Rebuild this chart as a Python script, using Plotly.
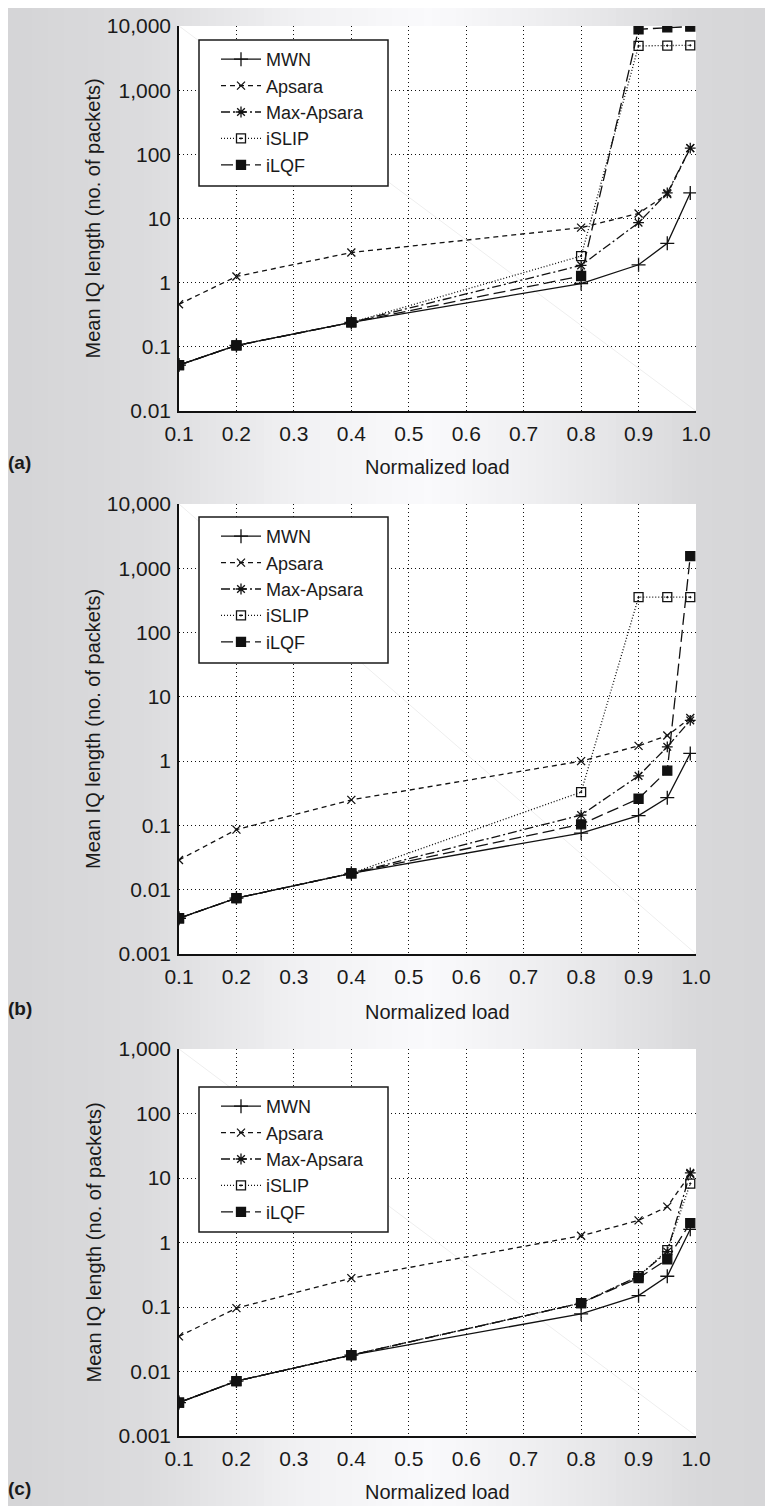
import plotly.graph_objects as go

# ---------------- data ----------------
load = [0.1, 0.2, 0.4, 0.8, 0.9, 0.95, 0.99]
series_names = ["MWN", "Apsara", "Max-Apsara", "iSLIP", "iLQF"]

# panel (a)
a_mwn = [0.052, 0.105, 0.24, 0.97, 1.9, 4.1, 25]
a_apsara = [0.46, 1.25, 2.95, 7.2, 12, 24, 125]
a_maxapsara = [0.052, 0.105, 0.24, 1.86, 8.6, 25, 125]
a_islip = [0.052, 0.105, 0.24, 2.6, 4900, 4950, 5000]
a_ilqf = [0.052, 0.105, 0.24, 1.27, 8900, 9500, 9800]

# panel (b)
b_mwn = [0.0036, 0.0074, 0.018, 0.076, 0.142, 0.27, 1.32]
b_apsara = [0.029, 0.086, 0.25, 1.0, 1.73, 2.5, 4.7]
b_maxapsara = [0.0036, 0.0074, 0.018, 0.145, 0.59, 1.67, 4.3]
b_islip = [0.0036, 0.0074, 0.018, 0.33, 355, 355, 355]
b_ilqf = [0.0036, 0.0074, 0.018, 0.104, 0.26, 0.71, 1550]

# panel (c)
c_mwn = [0.0033, 0.0071, 0.018, 0.078, 0.15, 0.3, 1.6]
c_apsara = [0.035, 0.096, 0.28, 1.27, 2.2, 3.6, 11.5]
c_maxapsara = [0.0033, 0.0071, 0.018, 0.115, 0.3, 0.72, 12]
c_islip = [0.0033, 0.0071, 0.018, 0.115, 0.3, 0.76, 8.2]
c_ilqf = [0.0033, 0.0071, 0.018, 0.115, 0.28, 0.55, 2.0]

x_tickvals = [0.1, 0.2, 0.3, 0.4, 0.5, 0.6, 0.7, 0.8, 0.9, 1.0]
x_ticktext = ["0.1", "0.2", "0.3", "0.4", "0.5", "0.6", "0.7", "0.8", "0.9", "1.0"]
y_tickvals = [0.001, 0.01, 0.1, 1, 10, 100, 1000, 10000]
y_ticktext = ["0.001", "0.01", "0.1", "1", "10", "100", "1,000", "10,000"]

panel_labels = ["(a)", "(b)", "(c)"]
x_title = "Normalized load"
y_title = "Mean IQ length (no. of packets)"

# ---------------- layout geometry (screen pixels; page body adds an 8px offset) ----------------
W, H = 773, 1506
OFF = 8
px = lambda v: (v - OFF) / W
py = lambda v: 1 - (v - OFF) / H

XL, XR = 179, 696
panels = [
    dict(top=26, bottom=411, yr=[-2, 4], data=[a_mwn, a_apsara, a_maxapsara, a_islip, a_ilqf],
         legtop=40, legbot=186, xtitle=467),
    dict(top=504, bottom=954, yr=[-3, 4], data=[b_mwn, b_apsara, b_maxapsara, b_islip, b_ilqf],
         legtop=517, legbot=663, xtitle=1012),
    dict(top=1049, bottom=1436, yr=[-3, 3], data=[c_mwn, c_apsara, c_maxapsara, c_islip, c_ilqf],
         legtop=1087, legbot=1232, xtitle=1492),
]

styles = {
    "MWN": dict(dash="solid", symbol="cross-thin-open", size=10, mcolor="#111111"),
    "Apsara": dict(dash="5px,4px", symbol="x-thin-open", size=8, mcolor="#111111"),
    "Max-Apsara": dict(dash="9px,3px,2px,3px", symbol="asterisk-open", size=9, mcolor="#111111"),
    "iSLIP": dict(dash="1px,2px", symbol="square-open-dot", size=9, mcolor="#111111"),
    "iLQF": dict(dash="12px,5px", symbol="square", size=9, mcolor="#111111"),
}

FONT = "Liberation Sans, Arial, Helvetica, sans-serif"

fig = go.Figure()

shapes = []
# background gradient (horizontal)
stops = [(0, 212), (150, 220), (300, 241), (430, 250), (560, 236), (700, 216), (790, 213)]
def gray_at(x):
    for (x0, g0), (x1, g1) in zip(stops[:-1], stops[1:]):
        if x0 <= x <= x1:
            return g0 + (g1 - g0) * (x - x0) / (x1 - x0)
    return stops[-1][1]
step = 8
for x0 in range(OFF, W + OFF, step):
    x1 = x0 + step
    g = int(round(gray_at((x0 + x1) / 2)))
    shapes.append(dict(type="rect", xref="paper", yref="paper", x0=px(x0), x1=px(x1) + 0.0005,
                       y0=0, y1=1, line=dict(width=0), fillcolor=f"rgb({g},{g},{g+2})",
                       layer="below"))

annotations = []
for i, p in enumerate(panels):
    n = i + 1
    xa = "xaxis" if n == 1 else f"xaxis{n}"
    ya = "yaxis" if n == 1 else f"yaxis{n}"
    xr = "x" if n == 1 else f"x{n}"
    yr = "y" if n == 1 else f"y{n}"
    leg = "legend" if n == 1 else f"legend{n}"
    for name, vals in zip(series_names, p["data"]):
        s = styles[name]
        fig.add_trace(go.Scatter(
            x=load, y=vals, name=name, mode="lines+markers", xaxis=xr, yaxis=yr, legend=leg,
            line=dict(color="#111111", width=1.3, dash=s["dash"]),
            marker=dict(symbol=s["symbol"], size=s["size"], color=s["mcolor"],
                        line=dict(color=s["mcolor"], width=1.3)),
        ))
    fig.update_layout(**{
        xa: dict(domain=[px(XL), px(XR)], range=[0.1, 1.0], anchor=yr, automargin=False,
                 tickvals=x_tickvals, ticktext=x_ticktext, ticks="",
                 showgrid=True, gridcolor="#111111", griddash="1px,3px", gridwidth=1,
                 showline=True, linecolor="#111111", linewidth=1.5, mirror=False,
                 zeroline=False, tickfont=dict(family=FONT, size=21, color="#1a1a1a"),
                 ticklabelstandoff=3),
        ya: dict(domain=[py(p["bottom"]), py(p["top"])], type="log", range=p["yr"], anchor=xr,
                 automargin=False,
                 tickvals=y_tickvals, ticktext=y_ticktext, ticks="",
                 showgrid=True, gridcolor="#111111", griddash="1px,3px", gridwidth=1,
                 showline=True, linecolor="#111111", linewidth=1.5, mirror=False,
                 zeroline=False, tickfont=dict(family=FONT, size=21, color="#1a1a1a"),
                 ticklabelstandoff=2),
        leg: dict(x=px(216), y=py(p["legtop"] + 1), xanchor="left", yanchor="top",
                  bgcolor="rgba(0,0,0,0)", borderwidth=0,
                  font=dict(family=FONT, size=18, color="#1a1a1a"), itemwidth=40,
                  tracegroupgap=0),
    })
    # white plot area + faint diagonal artifact
    shapes.append(dict(type="rect", xref=f"{xr} domain", yref=f"{yr} domain", x0=0, x1=1, y0=0, y1=1,
                       fillcolor="white", line=dict(width=0), layer="below"))
    shapes.append(dict(type="line", xref=f"{xr} domain", yref=f"{yr} domain", x0=0, x1=1, y0=1, y1=0,
                       line=dict(color="#eeeeee", width=1), layer="below"))
    # legend box
    shapes.append(dict(type="rect", xref="paper", yref="paper", x0=px(199), x1=px(388),
                       y0=py(p["legbot"]), y1=py(p["legtop"]), fillcolor="white",
                       line=dict(color="#1a1a1a", width=1.5), layer="above"))
    annotations.append(dict(text=x_title, xref="paper", yref="paper", x=px((XL + XR) / 2),
                            y=py(p["xtitle"]), xanchor="center", yanchor="middle", showarrow=False,
                            font=dict(family=FONT, size=20, color="#1a1a1a")))
    annotations.append(dict(text=y_title, xref="paper", yref="paper", x=px(93),
                            y=py((p["top"] + p["bottom"]) / 2), xanchor="center", yanchor="middle",
                            textangle=-90, showarrow=False,
                            font=dict(family=FONT, size=20, color="#1a1a1a")))
    annotations.append(dict(text=f"<b>{panel_labels[i]}</b>", xref="paper", yref="paper", x=px(6),
                            y=py(p["xtitle"] - 4), xanchor="left", yanchor="middle", showarrow=False,
                            font=dict(family=FONT, size=19, color="#1a1a1a")))

fig.update_layout(
    width=W, height=H, margin=dict(l=0, r=0, t=0, b=0, autoexpand=False),
    paper_bgcolor="white", plot_bgcolor="white",
    showlegend=True, shapes=shapes, annotations=annotations,
    font=dict(family=FONT, color="#1a1a1a"),
)

fig.write_html("out.html")
